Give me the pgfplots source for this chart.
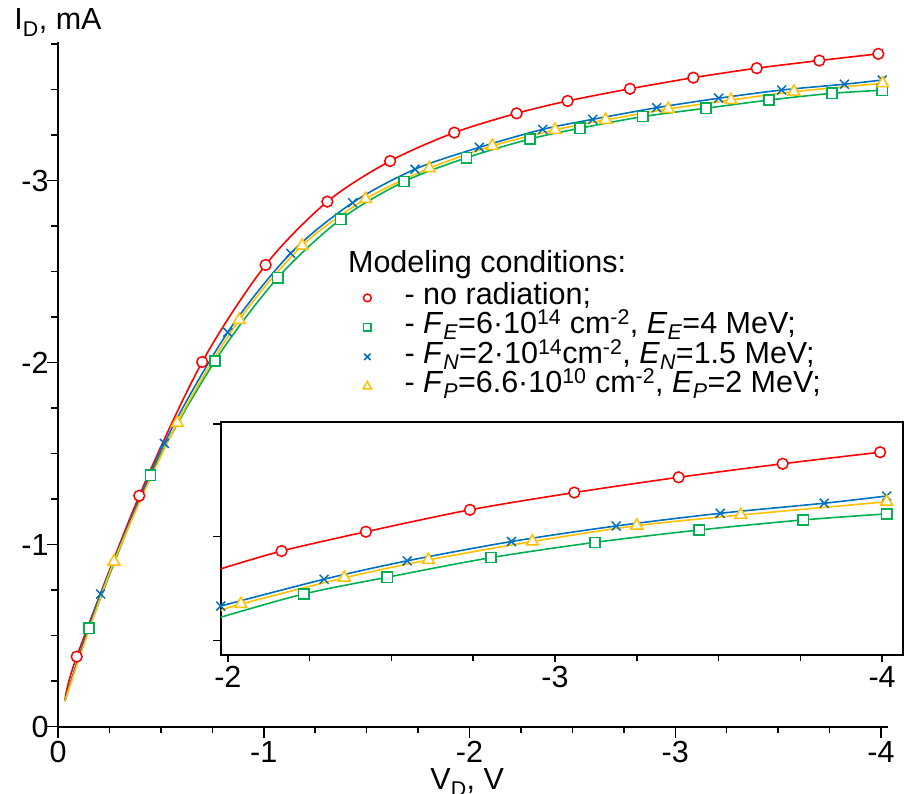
\documentclass[border=0pt]{standalone}
\usepackage{pgfplots}
\pgfplotsset{compat=1.18}
\usepackage{fontspec}
\setmainfont{Liberation Sans}
\definecolor{cred}{RGB}{255,0,0}
\definecolor{cgreen}{RGB}{0,176,80}
\definecolor{cblue}{RGB}{0,112,192}
\definecolor{cyel}{RGB}{255,192,0}
\newcommand\fs{\fontsize{30.5pt}{34pt}\selectfont}
\newcommand\lgap{\hspace*{31pt}}
\pgfplotsset{
  lred/.style={cred, line width=1.6pt, smooth, no markers, forget plot},
  lgreen/.style={cgreen, line width=1.6pt, smooth, no markers, forget plot},
  lblue/.style={cblue, line width=1.6pt, smooth, no markers, forget plot},
  lyel/.style={cyel, line width=1.6pt, smooth, no markers, forget plot},
  mred/.style={only marks, mark=*, mark size=5.4pt, mark options={draw=cred, fill=white, line width=1.5pt}},
  mgreen/.style={only marks, mark=square*, mark size=5.1pt, mark options={draw=cgreen, fill=white, line width=1.5pt}},
  mblue/.style={only marks, mark=x, mark size=6.3pt, mark options={draw=cblue, line width=1.5pt}},
  myel/.style={only marks, mark=triangle*, mark size=6.8pt, mark options={draw=cyel, fill=white, line width=1.5pt}},
}
\begin{document}
\begin{tikzpicture}
\begin{axis}[
  at={(0pt,0pt)}, anchor=south west,
  scale only axis, width=830pt, height=684.7pt,
  xmin=0, xmax=4.034, ymin=0, ymax=3.762,
  axis lines*=left,
  axis line style={line width=1.8pt, -},
  tick align=outside,
  tick style={black, line width=1.5pt},
  major tick length=11pt, minor tick length=6.5pt,
  xtick={0,1,2,3,4}, xticklabels={0,-1,-2,-3,-4},
  ytick={0,1,2,3}, yticklabels={0,-1,-2,-3},
  minor xtick={0.25,0.5,0.75,1.25,1.5,1.75,2.25,2.5,2.75,3.25,3.5,3.75},
  minor ytick={0.25,0.5,0.75,1.25,1.5,1.75,2.25,2.5,2.75,3.25,3.5,3.75},
  tick label style={font=\fs},
  yticklabel style={xshift=5pt},
  every axis y label/.style={at={(axis description cs:0,1)}, anchor=base, yshift=12pt, font=\fs},
  every axis x label/.style={at={(axis description cs:0.493,0)}, anchor=base, yshift=-63.3pt, font=\fs},
  ylabel={I\textsubscript{D}, mA},
  xlabel={V\textsubscript{D}, V},
  clip=false,
  legend style={at={(axis cs:1.482,2.438)}, anchor=north west, draw=none, fill=none, font=\fs, row sep=0pt, inner sep=0pt,
    nodes={inner ysep=0pt, text height=21pt, text depth=8.5pt}},
  legend image post style={every mark/.append style={scale=0.72}},
  legend cell align=left,
]
% red
\addplot[lred] coordinates {(0.034,0.147) (0.091,0.385) (0.395,1.269) (0.701,2.004) (1.009,2.537) (1.309,2.885) (1.614,3.108) (1.926,3.264) (2.229,3.370) (2.477,3.438) (2.78,3.505) (3.088,3.566) (3.396,3.618) (3.70,3.660) (3.987,3.697)};
% green
\addplot[lgreen] coordinates {(0.034,0.140) (0.151,0.541) (0.45,1.381) (0.763,2.009) (1.068,2.467) (1.374,2.788) (1.682,2.995) (1.986,3.126) (2.294,3.229) (2.537,3.288) (2.842,3.352) (3.149,3.398) (3.456,3.443) (3.762,3.480) (4.006,3.497)};
% blue
\addplot[lblue] coordinates {(0.034,0.145) (0.207,0.729) (0.517,1.557) (0.825,2.167) (1.131,2.601) (1.432,2.879) (1.735,3.063) (2.048,3.183) (2.356,3.282) (2.599,3.337) (2.910,3.401) (3.211,3.453) (3.517,3.498) (3.822,3.530) (4.006,3.553)};
% yellow
\addplot[lyel] coordinates {(0.034,0.143) (0.272,0.907) (0.580,1.670) (0.881,2.235) (1.187,2.643) (1.495,2.899) (1.805,3.068) (2.111,3.191) (2.416,3.279) (2.662,3.334) (2.966,3.394) (3.271,3.443) (3.577,3.489) (4.008,3.535)};
\addplot[mred] coordinates {(0.091,0.385) (0.395,1.269) (0.701,2.004) (1.009,2.537) (1.309,2.885) (1.614,3.108) (1.926,3.264) (2.229,3.370) (2.477,3.438) (2.78,3.505) (3.088,3.566) (3.396,3.618) (3.70,3.660) (3.987,3.697)};
\addlegendentry{\lgap- no radiation;}
\addplot[mgreen] coordinates {(0.151,0.541) (0.45,1.381) (0.763,2.009) (1.068,2.467) (1.374,2.788) (1.682,2.995) (1.986,3.126) (2.294,3.229) (2.537,3.288) (2.842,3.352) (3.149,3.398) (3.456,3.443) (3.762,3.480) (4.006,3.497)};
\addlegendentry{\lgap- \textit{F}\textsubscript{\textit{E}}=6·10\textsuperscript{14} cm\textsuperscript{-2}, \textit{E}\textsubscript{\textit{E}}=4 MeV;}
\addplot[mblue] coordinates {(0.207,0.729) (0.517,1.557) (0.825,2.167) (1.131,2.601) (1.432,2.879) (1.735,3.063) (2.048,3.183) (2.356,3.282) (2.599,3.337) (2.910,3.401) (3.211,3.453) (3.517,3.498) (3.822,3.530) (4.006,3.553)};
\addlegendentry{\lgap- \textit{F}\textsubscript{\textit{N}}=2·10\textsuperscript{14}cm\textsuperscript{-2}, \textit{E}\textsubscript{\textit{N}}=1.5 MeV;}
\addplot[myel] coordinates {(0.272,0.907) (0.580,1.670) (0.881,2.235) (1.187,2.643) (1.495,2.899) (1.805,3.068) (2.111,3.191) (2.416,3.279) (2.662,3.334) (2.966,3.394) (3.271,3.443) (3.577,3.489) (4.008,3.535)};
\addlegendentry{\lgap- \textit{F}\textsubscript{\textit{P}}=6.6·10\textsuperscript{10} cm\textsuperscript{-2}, \textit{E}\textsubscript{\textit{P}}=2 MeV;}
\node[anchor=base west, font=\fs, inner sep=0pt] at (axis cs:1.409,2.497) {Modeling conditions:};
\end{axis}
\begin{axis}[
  at={(162.7pt,71.7pt)}, anchor=south west,
  scale only axis, width=682.3pt, height=233pt,
  xmin=1.978, xmax=4.064, ymin=2.995, ymax=3.804,
  axis background/.style={fill=white},
  axis line style={line width=1.8pt},
  tick align=outside, tick pos=left,
  tick style={black, line width=1.5pt},
  major tick length=7.5pt, minor tick length=6pt,
  xtick={2,3,4}, xticklabels={-2,-3,-4},
  minor xtick={2.25,2.5,2.75,3.25,3.5,3.75},
  ytick={3.045,3.406,3.797}, yticklabels={},
  tick label style={font=\fs},
]
\addplot[lred] coordinates {(1.978,3.294) (2.164,3.356) (2.422,3.423) (2.740,3.499) (3.059,3.559) (3.378,3.612) (3.696,3.659) (3.994,3.699)};
\addplot[lgreen] coordinates {(1.978,3.126) (2.232,3.207) (2.487,3.265) (2.804,3.333) (3.122,3.386) (3.441,3.429) (3.759,3.464) (4.014,3.485)};
\addplot[lblue] coordinates {(1.978,3.165) (2.294,3.258) (2.548,3.322) (2.867,3.389) (3.187,3.443) (3.505,3.487) (3.823,3.522) (4.014,3.547)};
\addplot[lyel] coordinates {(1.978,3.149) (2.040,3.172) (2.356,3.263) (2.613,3.325) (2.931,3.389) (3.250,3.444) (3.568,3.481) (4.014,3.527)};
\addplot[mred] coordinates {(2.164,3.356) (2.422,3.423) (2.740,3.499) (3.059,3.559) (3.378,3.612) (3.696,3.659) (3.994,3.699)};
\addplot[mgreen] coordinates {(2.232,3.207) (2.487,3.265) (2.804,3.333) (3.122,3.386) (3.441,3.429) (3.759,3.464) (4.014,3.485)};
\addplot[mblue] coordinates {(1.978,3.165) (2.294,3.258) (2.548,3.322) (2.867,3.389) (3.187,3.443) (3.505,3.487) (3.823,3.522) (4.014,3.547)};
\addplot[myel] coordinates {(2.040,3.172) (2.356,3.263) (2.613,3.325) (2.931,3.389) (3.250,3.444) (3.568,3.481) (4.014,3.527)};
\end{axis}
\pgfresetboundingbox
\path[use as bounding box] (-58pt,-67.3pt) rectangle (846pt,726.7pt);
\end{tikzpicture}
\end{document}
